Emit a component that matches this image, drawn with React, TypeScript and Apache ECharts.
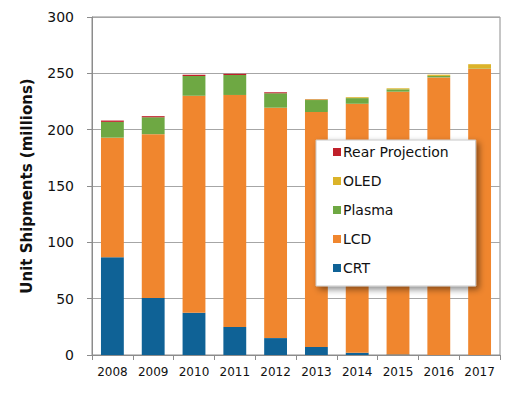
import React, { useEffect, useRef } from "react";
import * as echarts from "echarts";

const years = ["2008", "2009", "2010", "2011", "2012", "2013", "2014", "2015", "2016", "2017"];
const crt = [86.7, 50.6, 37.6, 24.9, 15, 7.1, 2, 0.5, 0, 0];
const lcd = [106.2, 145.4, 192.4, 205.9, 204.5, 208.6, 221, 233.2, 246.4, 254];
const plasma = [14, 15, 17.6, 17.7, 12.8, 10.6, 5, 2.1, 1.3, 0.3];
const oled = [0, 0, 0, 0, 0, 0.6, 0.8, 0.9, 1.1, 3.8];
const rear = [1.2, 1, 1.1, 1.1, 0.9, 0.2, 0, 0, 0, 0];
const legendOrder = ["Rear Projection", "OLED", "Plasma", "LCD", "CRT"];

const FONT = "DejaVu Sans";

export default function App() {
  const ref = useRef<HTMLDivElement>(null);
  useEffect(() => {
    if (!ref.current) return;
    const chart = echarts.init(ref.current, null, { renderer: "svg" });
    const mk = (name: string, data: number[], color: string) => ({
      name,
      type: "bar",
      stack: "total",
      data,
      barWidth: "56%",
      itemStyle: { color },
      emphasis: { disabled: true },
    });
    chart.setOption({
      animation: false,
      backgroundColor: "#ffffff",
      textStyle: { fontFamily: FONT },
      grid: {
        left: 92,
        right: 9,
        top: 17,
        bottom: 42,
        show: true,
        borderColor: "#8c8c8c",
        borderWidth: 1,
        backgroundColor: "transparent",
      },
      legend: {
        data: legendOrder,
        orient: "vertical",
        left: 316,
        top: 140,
        icon: "rect",
        itemWidth: 8,
        itemHeight: 8,
        itemGap: 15,
        padding: [5, 27, 11, 17],
        backgroundColor: "#ffffff",
        borderColor: "#c8c8c8",
        borderWidth: 1,
        shadowBlur: 6,
        shadowOffsetX: 3,
        shadowOffsetY: 3,
        shadowColor: "rgba(0,0,0,0.45)",
        textStyle: { fontFamily: FONT, fontSize: 14, color: "#111", padding: [0, 0, 0, -3] },
        selectedMode: false,
      },
      xAxis: {
        type: "category",
        data: years,
        axisLine: { lineStyle: { color: "#8c8c8c" } },
        axisTick: { show: true, length: 5, lineStyle: { color: "#8c8c8c" } },
        axisLabel: { fontFamily: FONT, fontSize: 12, color: "#111", margin: 11 },
      },
      yAxis: {
        type: "value",
        min: 0,
        max: 300,
        interval: 50,
        name: "Unit Shipments (millions)",
        nameLocation: "middle",
        nameGap: 58,
        nameTextStyle: { fontFamily: FONT, fontSize: 15, fontWeight: "bold", color: "#111" },
        axisLine: { show: true, lineStyle: { color: "#8c8c8c" } },
        axisTick: { show: true, length: 5, lineStyle: { color: "#8c8c8c" } },
        axisLabel: { fontFamily: FONT, fontSize: 14, color: "#111", margin: 18 },
        splitLine: { lineStyle: { color: "#a6a6a6" } },
      },
      series: [
        mk("CRT", crt, "#0f6296"),
        mk("LCD", lcd, "#f0862e"),
        mk("Plasma", plasma, "#6ea843"),
        mk("OLED", oled, "#dbb329"),
        mk("Rear Projection", rear, "#c0202a"),
      ],
    });
    return () => chart.dispose();
  }, []);
  return (
    <div
      ref={ref}
      style={{ position: "absolute", left: 0, top: 0, width: 509, height: 397 }}
    />
  );
}
